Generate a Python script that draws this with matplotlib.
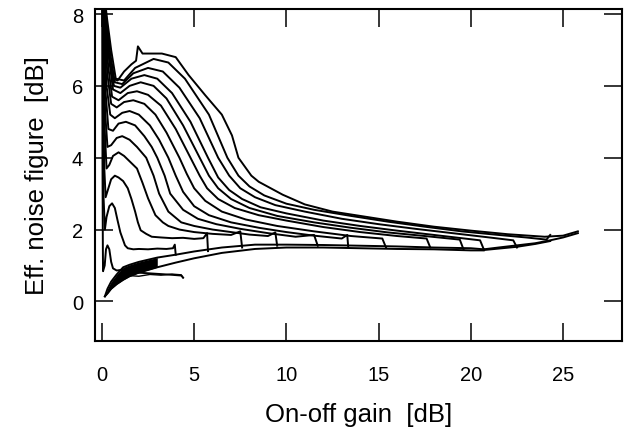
import numpy as np
import matplotlib
matplotlib.use("Agg")
import matplotlib.pyplot as plt

# on-off gain [dB] vs effective noise figure [dB], one curve per pump level
# upper branch of each curve, read from left (low gain) to its end gain
gain_c01 = [0.02, 0.03, 0.05, 0.06, 0.15, 0.22, 0.3, 0.4, 0.5, 0.6, 0.8, 1.1, 1.5, 2.0, 2.6, 3.2, 3.8, 4.3, 4.4]
nf_c01 = [8.4, 4.0, 1.5, 0.84, 1.0, 1.45, 1.56, 1.45, 1.1, 0.92, 0.86, 0.88, 0.82, 0.8, 0.78, 0.76, 0.74, 0.72, 0.66]

gain_c02 = [0.04, 0.05, 0.08, 0.16, 0.25, 0.4, 0.55, 0.7, 0.85, 1.0, 1.25, 1.4, 1.7, 2.0, 2.5, 3.0, 3.5, 3.85, 3.95, 4.0]
nf_c02 = [8.4, 5.5, 3.0, 2.0, 2.35, 2.65, 2.73, 2.6, 2.25, 1.92, 1.56, 1.48, 1.45, 1.46, 1.45, 1.47, 1.46, 1.48, 1.58, 1.3]

gain_c03 = [0.06, 0.08, 0.12, 0.2, 0.35, 0.5, 0.7, 0.9, 1.15, 1.4, 1.6, 1.8, 1.95, 2.1, 2.4, 2.7, 3.2, 3.8, 4.4, 5.0, 5.5, 5.7, 5.75]
nf_c03 = [8.4, 6.0, 3.8, 2.9, 3.15, 3.4, 3.5, 3.45, 3.35, 3.15, 2.85, 2.5, 2.2, 1.98, 1.88, 1.8, 1.78, 1.76, 1.77, 1.74, 1.76, 1.9, 1.4]

gain_c04 = [0.07, 0.1, 0.15, 0.25, 0.4, 0.6, 0.9, 1.2, 1.5, 1.9, 2.2, 2.5, 2.9, 3.3, 3.6, 4.2, 5.0, 6.0, 7.0, 7.5, 7.6]
nf_c04 = [8.4, 6.5, 4.8, 3.7, 3.8, 4.05, 4.15, 4.05, 3.9, 3.7, 3.3, 2.87, 2.4, 2.2, 2.1, 2.0, 1.93, 1.88, 1.85, 1.95, 1.5]

gain_c05 = [0.08, 0.11, 0.17, 0.3, 0.5, 0.8, 1.1, 1.5, 1.9, 2.4, 2.8, 3.1, 3.6, 4.3, 5.0, 6.0, 7.0, 8.0, 9.0, 9.4, 9.5]
nf_c05 = [8.4, 6.8, 5.3, 4.3, 4.35, 4.55, 4.6, 4.5, 4.3, 4.0, 3.5, 3.0, 2.5, 2.2, 2.1, 2.0, 1.93, 1.86, 1.82, 1.92, 1.55]

gain_c06 = [0.09, 0.12, 0.2, 0.35, 0.6, 0.9, 1.3, 1.8, 2.3, 2.7, 3.0, 3.4, 3.7, 4.4, 5.2, 6.2, 7.5, 9.0, 10.5, 11.5, 11.7]
nf_c06 = [8.4, 7.0, 5.8, 4.8, 4.75, 4.95, 5.0, 4.9, 4.6, 4.3, 4.0, 3.5, 3.0, 2.55, 2.3, 2.15, 2.02, 1.9, 1.8, 1.85, 1.55]

gain_c07 = [0.1, 0.14, 0.25, 0.45, 0.7, 1.1, 1.5, 2.0, 2.6, 3.1, 3.6, 4.0, 4.4, 5.0, 5.8, 7.0, 8.5, 10.0, 11.5, 13.0, 13.3, 13.35]
nf_c07 = [8.4, 7.2, 6.0, 5.2, 5.1, 5.25, 5.3, 5.2, 4.9, 4.5, 4.0, 3.5, 3.05, 2.65, 2.4, 2.2, 2.05, 1.93, 1.83, 1.75, 1.85, 1.52]

gain_c08 = [0.11, 0.16, 0.3, 0.5, 0.8, 1.2, 1.7, 2.3, 2.9, 3.5, 4.2, 4.6, 5.0, 5.6, 6.5, 7.8, 9.5, 11.5, 13.5, 15.2, 15.4]
nf_c08 = [8.4, 7.4, 6.3, 5.5, 5.4, 5.55, 5.6, 5.5, 5.2, 4.7, 4.0, 3.55, 3.15, 2.8, 2.5, 2.28, 2.1, 1.95, 1.82, 1.75, 1.5]

gain_c09 = [0.12, 0.18, 0.35, 0.55, 0.9, 1.4, 1.9, 2.5, 3.2, 4.0, 4.8, 5.3, 5.7, 6.3, 7.2, 8.5, 10.0, 12.0, 14.0, 16.0, 17.6, 17.8]
nf_c09 = [8.4, 7.5, 6.5, 5.7, 5.6, 5.8, 5.85, 5.75, 5.45, 4.8, 4.0, 3.5, 3.15, 2.85, 2.6, 2.4, 2.25, 2.07, 1.93, 1.82, 1.75, 1.5]

gain_c10 = [0.13, 0.2, 0.4, 0.6, 1.0, 1.5, 2.1, 2.8, 3.5, 4.4, 5.3, 5.8, 6.3, 7.0, 8.0, 9.5, 11.5, 13.5, 15.5, 17.5, 19.4, 19.6]
nf_c10 = [8.4, 7.6, 6.7, 5.9, 5.8, 6.0, 6.1, 6.0, 5.65, 4.9, 4.0, 3.5, 3.15, 2.85, 2.6, 2.38, 2.2, 2.05, 1.92, 1.82, 1.72, 1.45]

gain_c11 = [0.14, 0.22, 0.4, 0.65, 1.0, 1.6, 2.3, 3.0, 3.8, 4.8, 5.75, 6.3, 6.9, 7.6, 8.6, 10.0, 12.0, 14.0, 16.0, 18.0, 20.5, 20.7]
nf_c11 = [8.4, 7.7, 6.8, 6.0, 5.95, 6.2, 6.3, 6.2, 5.8, 5.0, 4.0, 3.45, 3.1, 2.85, 2.62, 2.45, 2.25, 2.1, 1.97, 1.85, 1.7, 1.45]

gain_c12 = [0.15, 0.25, 0.45, 0.7, 1.1, 1.7, 2.5, 3.3, 4.2, 5.3, 6.3, 6.9, 7.5, 8.3, 9.4, 11.0, 13.0, 15.0, 17.0, 19.0, 21.0, 22.3, 22.5]
nf_c12 = [8.4, 7.8, 6.9, 6.1, 6.05, 6.35, 6.5, 6.4, 5.95, 5.1, 4.0, 3.5, 3.15, 2.9, 2.68, 2.5, 2.3, 2.15, 2.02, 1.9, 1.78, 1.7, 1.5]

gain_c13 = [0.16, 0.27, 0.5, 0.75, 1.2, 1.8, 2.8, 3.6, 4.5, 5.8, 6.8, 7.4, 8.0, 8.8, 10.0, 11.5, 13.5, 15.5, 17.5, 19.5, 21.5, 23.0, 24.1, 24.3]
nf_c13 = [8.4, 7.9, 7.0, 6.2, 6.15, 6.5, 6.75, 6.65, 6.2, 5.2, 4.0, 3.5, 3.2, 2.95, 2.72, 2.55, 2.38, 2.22, 2.08, 1.95, 1.85, 1.78, 1.72, 1.85]

gain_c14 = [0.17, 0.33, 0.6, 0.85, 1.2, 1.6, 1.85, 1.95, 2.2, 3.25, 4.0, 4.7, 5.6, 6.5, 7.05, 7.4, 8.1, 8.5, 9.8, 11.0, 12.5, 14.0, 16.0, 18.0, 20.0, 22.0, 24.0, 25.0, 25.8]
nf_c14 = [8.4, 7.0, 6.2, 6.15, 6.4, 6.6, 6.7, 7.1, 6.9, 6.9, 6.8, 6.3, 5.74, 5.2, 4.62, 4.0, 3.5, 3.33, 2.97, 2.7, 2.5, 2.38, 2.22, 2.08, 1.97, 1.87, 1.8, 1.83, 1.95]

# common return branch (dense bundle at the bottom)
gain_bundle = [0.16, 0.3, 0.5, 0.8, 1.15, 1.5, 2.0, 3.0, 4.0, 5.0, 6.5, 8.3, 10.0, 12.0, 14.0, 16.0, 18.0, 20.0, 20.7]
nf_bundle_hi = [0.14, 0.35, 0.55, 0.75, 0.95, 1.02, 1.1, 1.22, 1.3, 1.39, 1.5, 1.58, 1.58, 1.57, 1.55, 1.53, 1.5, 1.48, 1.45]
nf_bundle_lo = [0.14, 0.22, 0.35, 0.48, 0.6, 0.7, 0.8, 0.95, 1.08, 1.2, 1.35, 1.46, 1.5, 1.5, 1.48, 1.46, 1.45, 1.42, 1.42]

# return lines of the highest-gain curves
gain_ret_a = [20.7, 21.5, 22.5, 23.5, 24.3, 25.0, 25.8]
nf_ret_a = [1.45, 1.5, 1.56, 1.62, 1.7, 1.78, 1.9]
gain_ret_b = [20.7, 21.5, 22.5, 23.5, 24.3]
nf_ret_b = [1.43, 1.47, 1.52, 1.6, 1.68]

# thin low line under the bundle
gain_low = [1.4, 2.0, 2.6, 3.2, 3.8, 4.3, 4.4]
nf_low = [0.72, 0.7, 0.75, 0.73, 0.76, 0.74, 0.66]

curves = [
    (gain_c01, nf_c01), (gain_c02, nf_c02), (gain_c03, nf_c03), (gain_c04, nf_c04),
    (gain_c05, nf_c05), (gain_c06, nf_c06), (gain_c07, nf_c07), (gain_c08, nf_c08),
    (gain_c09, nf_c09), (gain_c10, nf_c10), (gain_c11, nf_c11), (gain_c12, nf_c12),
    (gain_c13, nf_c13), (gain_c14, nf_c14),
]

plt.rcParams['font.family'] = ['Liberation Sans', 'DejaVu Sans']

fig = plt.figure(figsize=(6.24, 4.35), dpi=100)
ax = fig.add_axes([0.153, 0.214, 0.844, 0.763])

lw = 1.4
for g, n in curves:
    ax.plot(g, n, color='black', lw=lw)

ax.fill_between(gain_bundle[:8], nf_bundle_lo[:8], nf_bundle_hi[:8], color='black', lw=0)
ax.plot(gain_bundle, nf_bundle_hi, color='black', lw=lw)
ax.plot(gain_bundle, nf_bundle_lo, color='black', lw=lw)
ax.plot(gain_ret_a, nf_ret_a, color='black', lw=lw)
ax.plot(gain_ret_b, nf_ret_b, color='black', lw=lw)
ax.plot(gain_low, nf_low, color='black', lw=1.0)

ax.set_xlim(-0.35, 28.2)
ax.set_ylim(-1.1, 8.14)
ax.set_xticks([0, 5, 10, 15, 20, 25])
ax.set_yticks([0, 2, 4, 6, 8])
ax.tick_params(direction='in', length=13, width=1.1, top=True, right=True, labelsize=14.5)
ax.tick_params(axis='x', pad=17)
ax.tick_params(axis='y', pad=9)
for s in ax.spines.values():
    s.set_linewidth(1.5)

ax.set_xlabel('On-off gain  [dB]', fontsize=18.5, labelpad=13)
ax.set_ylabel('Eff. noise figure  [dB]', fontsize=18.5, labelpad=16)

fig.savefig('out.png', dpi=100)
